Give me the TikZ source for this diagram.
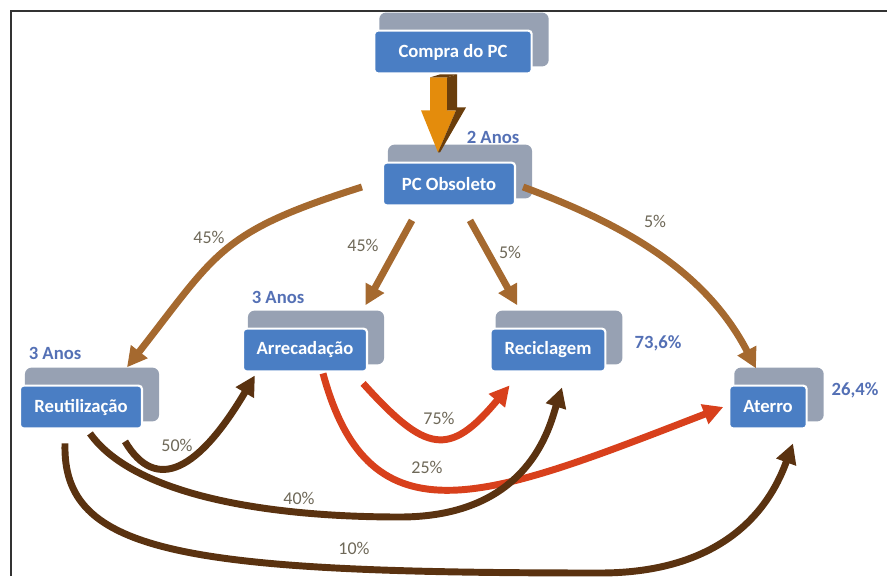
\documentclass[tikz,border=0pt]{standalone}
\usepackage{fontspec}
\setmainfont{Carlito}
\usetikzlibrary{arrows.meta,fit,backgrounds}
\definecolor{boxblue}{HTML}{4A7EC4}
\definecolor{shadowgray}{HTML}{97A1B3}
\definecolor{lightbrown}{HTML}{A5692F}
\definecolor{darkbrown}{HTML}{5A3210}
\definecolor{flowred}{HTML}{D8401C}
\definecolor{labelblue}{HTML}{5470B5}
\definecolor{pctgray}{HTML}{6E6858}
\definecolor{arrowgold}{HTML}{E48C0C}
\definecolor{arrowdark}{HTML}{6A3E0C}
\begin{document}
\begin{tikzpicture}[x=0.75pt,y=0.75pt,
  stage/.style={draw=white,line width=1.6pt,fill=boxblue,rounded corners=2.5pt,text=white,
    font=\fontsize{14}{16}\selectfont\bfseries,minimum height=32pt,inner sep=0pt},
  backbox/.style={fill=shadowgray,rounded corners=5pt,inner sep=0pt},
  flow/.style={line width=5.2pt,-{Triangle[length=15pt,width=15pt]}},
  pct/.style={text=pctgray,font=\fontsize{13.5}{16}\selectfont},
  years/.style={text=labelblue,font=\fontsize{14}{16}\selectfont\bfseries}]
\useasboundingbox (0,0) rectangle (887,576);
\draw[line width=1.5pt,black!80] (11,0) -- (11,565) -- (887,565);
\node[stage,minimum width=118pt] (compra) at (453,524) {Compra do PC};
\node[stage,minimum width=99pt] (obsoleto) at (449,392) {PC Obsoleto};
\node[stage,minimum width=93pt] (arrecad) at (305,226) {Arrecadação};
\node[stage,minimum width=91.5pt] (reutil) at (81,169) {Reutilização};
\node[stage,minimum width=86pt] (recicl) at (548,226) {Reciclagem};
\node[stage,minimum width=58pt] (aterro) at (768,169) {Aterro};
\begin{scope}[on background layer]
\foreach \n in {compra,obsoleto,arrecad,reutil,recicl,aterro}
  \node[backbox,fit={([shift={(6,17)}]\n.north west) ([shift={(16,8)}]\n.south east)}] (\n-sh) {};
\end{scope}
% compra -> obsoleto
\begin{scope}[shift={(compra.south)}]
\fill[arrowgold] (-23,-3) -- (-6,-3) -- (-6,-36) -- (3,-36) -- (-15,-78) -- (-32,-36) -- (-23,-36) -- cycle;
\fill[arrowdark] (-6,-3) -- (4,0) -- (4,-33) -- (13,-33) -- (-13,-78) -- (-15,-78) -- (3,-36) -- (-6,-36) -- cycle;
\fill[arrowdark] (-23,-3) -- (-13,0) -- (4,0) -- (-6,-3) -- cycle;
\end{scope}
\node[years] (obsYears) at (493,439) {2 Anos};
\node[years] (reutilYears) at (55,223) {3 Anos};
\node[years] (arrecadYears) at (278,279) {3 Anos};
\node[years] (reciclShare) at (658,233) {73,6\%};
\node[years] (aterroShare) at (855,186) {26,4\%};
% out of obsoleto
\draw[flow,lightbrown] ([shift={(-20,-3)}]obsoleto.west) .. controls (220,344) and (218,325) .. ([shift={(35,0)}]reutil-sh.north);
\draw[flow,lightbrown] ([shift={(-37,-14)}]obsoleto.south) -- ([shift={(-19,5)}]arrecad-sh.north east);
\draw[flow,lightbrown] ([shift={(21,-14)}]obsoleto.south) -- ([shift={(22,5)}]recicl-sh.north west);
\draw[flow,lightbrown] ([shift={(7,-3)}]obsoleto.east) .. controls (626,351) and (706,304) .. ([shift={(22,-1)}]aterro-sh.north west);
% out of arrecad
\draw[flow,flowred] ([shift={(-5,-11)}]arrecad.south east) .. controls (426,123) and (449,118) .. ([shift={(20,-13)}]recicl.south west);
\draw[flow,flowred] ([shift={(18,-1)}]arrecad.south) .. controls (370,28) and (490,79) .. ([shift={(-5,0)}]aterro.west);
% out of reutil
\draw[flow,darkbrown] ([shift={(44,-12)}]reutil.south) .. controls (156,82) and (199,106) .. ([shift={(13,-3)}]arrecad.south west);
\draw[flow,darkbrown] ([shift={(9,-4)}]reutil.south) .. controls (130,86) and (250,59) .. (400,59)
  .. controls (530,59) and (550,151) .. ([shift={(14,-15)}]recicl.south);
\draw[flow,darkbrown] ([shift={(-16,-14)}]reutil.south) .. controls (62,23) and (180,3) .. (600,3)
  .. controls (740,3) and (776,86) .. ([shift={(25,-14)}]aterro.south);
\node[pct] (pReutil) at (209,339) {45\%};
\node[pct] (pArrecad) at (363,331) {45\%};
\node[pct] (pRecicl) at (510,324) {5\%};
\node[pct] (pAterro) at (655,355) {5\%};
\node[pct] (pReuArr) at (177,131) {50\%};
\node[pct] (pReuRec) at (299,78) {40\%};
\node[pct] (pReuAte) at (354,28) {10\%};
\node[pct] (pArrRec) at (439,158) {75\%};
\node[pct] (pArrAte) at (427,109) {25\%};
\end{tikzpicture}
\end{document}
